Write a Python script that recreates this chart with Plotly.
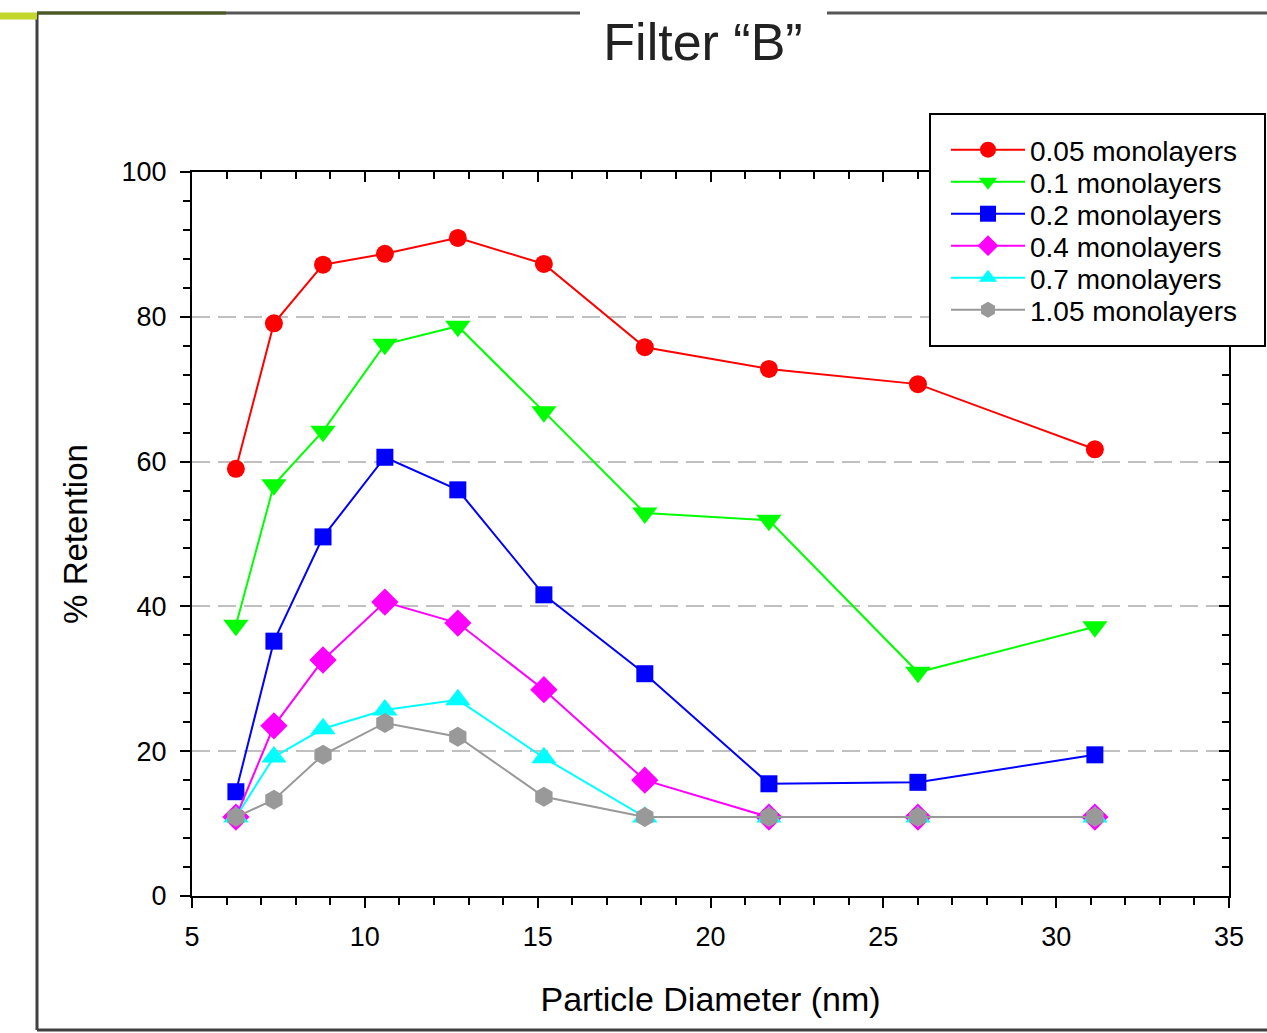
import plotly.graph_objects as go

# ---- data ----
diameter_nm = [6.27, 7.37, 8.79, 10.58, 12.69, 15.18, 18.10, 21.69, 26.0, 31.12]

series_names = ["0.05 monolayers", "0.1 monolayers", "0.2 monolayers",
                "0.4 monolayers", "0.7 monolayers", "1.05 monolayers"]
ret_005 = [59.0, 79.1, 87.2, 88.7, 90.9, 87.3, 75.8, 72.8, 70.7, 61.7]
ret_01 = [37.4, 56.8, 64.2, 76.2, 78.7, 66.9, 52.9, 51.9, 30.9, 37.2]
ret_02 = [14.4, 35.2, 49.6, 60.6, 56.1, 41.6, 30.7, 15.5, 15.7, 19.5]
ret_04 = [10.9, 23.5, 32.6, 40.6, 37.7, 28.5, 16.0, 10.9, 10.9, 10.9]
ret_07 = [10.9, 19.2, 23.1, 25.7, 27.1, 19.1, 10.9, 10.9, 10.9, 10.9]
ret_105 = [10.9, 13.3, 19.5, 23.9, 22.0, 13.7, 10.9, 10.9, 10.9, 10.9]

x_ticks = [5, 10, 15, 20, 25, 30, 35]
y_ticks = [0, 20, 40, 60, 80, 100]

# ---- style ----
colors = ["#ff0000", "#00ff00", "#0000ff", "#ff00ff", "#00ffff", "#999999"]
symbols = ["circle", "triangle-down", "square", "diamond", "triangle-up", "hexagon"]
sizes = [18, 22, 17, 21, 22, 20]
FONT = "Liberation Sans, Arial, sans-serif"

W, H = 1267, 1033
L, R, T, B = 192, 38, 172, 137
pw, ph = W - L - R, H - T - B


def px(x):
    return (x - L) / pw


def py(y):
    return (H - B - y) / ph


legend_keys = ["legend", "legend2", "legend3", "legend4", "legend5", "legend6"]
legend_rows = [150, 182, 214, 246, 278, 310]

fig = go.Figure()
for name, vals, c, s, sz, lk in zip(series_names,
                                    [ret_005, ret_01, ret_02, ret_04, ret_07, ret_105],
                                    colors, symbols, sizes, legend_keys):
    fig.add_trace(go.Scatter(
        x=diameter_nm, y=vals, name=name, mode="lines+markers",
        line=dict(color=c, width=2),
        marker=dict(symbol=s, size=sz, color=c, line=dict(width=0)),
        legend=lk,
    ))

# invisible helper trace to activate mirrored (inside-tick) axes
fig.add_trace(go.Scatter(x=diameter_nm, y=ret_005, xaxis="x2", yaxis="y2",
                         mode="markers", marker=dict(opacity=0),
                         showlegend=False, hoverinfo="skip"))

common_x = dict(range=[5, 35], showgrid=False, zeroline=False,
                showline=True, linecolor="black", linewidth=2)
common_y = dict(range=[0, 100], zeroline=False,
                showline=True, linecolor="black", linewidth=2)

legends = {}
for lk, row in zip(legend_keys, legend_rows):
    legends[lk] = dict(x=px(946), y=py(row), xanchor="left", yanchor="middle",
                       bgcolor="rgba(0,0,0,0)", borderwidth=0,
                       font=dict(size=28, family=FONT, color="black"),
                       itemwidth=74)

fig.update_layout(
    width=W, height=H,
    margin=dict(l=L, r=R, t=T, b=B, autoexpand=False),
    paper_bgcolor="white", plot_bgcolor="white",
    font=dict(family=FONT, color="black", size=27),
    title=dict(text="Filter “B”", font=dict(size=52, color="#222222", family=FONT),
               x=px(703), xref="paper", xanchor="center",
               y=1 - 42 / H, yref="container", yanchor="middle"),
    xaxis=dict(**common_x, tickvals=x_ticks, ticks="outside", ticklen=10,
               tickwidth=2, tickcolor="black", ticklabelstandoff=6,
               tickfont=dict(size=27, family=FONT),
               minor=dict(dtick=1, ticks="outside", ticklen=7, tickwidth=2,
                          tickcolor="black", showgrid=False),
               title=dict(text="Particle Diameter (nm)",
                          font=dict(size=34, family=FONT), standoff=36)),
    yaxis=dict(**common_y, tickvals=y_ticks, ticks="outside", ticklen=10,
               tickwidth=2, tickcolor="black", ticklabelstandoff=8,
               tickfont=dict(size=27, family=FONT),
               showgrid=True, gridcolor="#c0c0c0", gridwidth=1.5,
               griddash="18px,8px",
               minor=dict(dtick=4, ticks="outside", ticklen=7, tickwidth=2,
                          tickcolor="black", showgrid=False),
               title=dict(text="% Retention",
                          font=dict(size=33, family=FONT), standoff=24)),
    xaxis2=dict(**common_x, overlaying="x", side="top", anchor="y2",
                tickvals=x_ticks, ticks="inside", ticklen=10, tickwidth=2,
                tickcolor="black", showticklabels=False,
                minor=dict(dtick=1, ticks="inside", ticklen=7, tickwidth=2,
                           tickcolor="black", showgrid=False)),
    yaxis2=dict(**common_y, overlaying="y", side="right", anchor="x2",
                tickvals=y_ticks, ticks="inside", ticklen=10, tickwidth=2,
                tickcolor="black", showticklabels=False, showgrid=False,
                minor=dict(dtick=4, ticks="inside", ticklen=7, tickwidth=2,
                           tickcolor="black", showgrid=False)),
    showlegend=True,
    **legends,
)

# outer slide frame with a gap for the title, and legend box
frame = "#404040"
shapes = [
    dict(type="rect", xref="paper", yref="paper", layer="above",
         x0=px(930), x1=px(1265), y0=py(114), y1=py(346),
         fillcolor="white", line=dict(color="black", width=2)),
    dict(type="line", xref="paper", yref="paper", x0=px(37), x1=px(37),
         y0=py(13), y1=py(1030), line=dict(color=frame, width=3)),
    dict(type="line", xref="paper", yref="paper", x0=px(37), x1=px(1268),
         y0=py(1030), y1=py(1030), line=dict(color=frame, width=3)),
    dict(type="line", xref="paper", yref="paper", x0=px(37), x1=px(580),
         y0=py(13), y1=py(13), line=dict(color="#555555", width=3)),
    dict(type="line", xref="paper", yref="paper", x0=px(37), x1=px(226),
         y0=py(13), y1=py(13), line=dict(color="#4a5a20", width=3)),
    dict(type="line", xref="paper", yref="paper", x0=px(827), x1=px(1268),
         y0=py(13), y1=py(13), line=dict(color="#555555", width=3)),
    dict(type="line", xref="paper", yref="paper", x0=px(0), x1=px(37),
         y0=py(16), y1=py(16), line=dict(color="#c2d62e", width=7)),
]
fig.update_layout(shapes=shapes)

fig.write_html("out.html",
               config={"displayModeBar": False},
               post_script="document.body.style.margin='0px';"
                           "document.body.style.overflow='hidden';")
